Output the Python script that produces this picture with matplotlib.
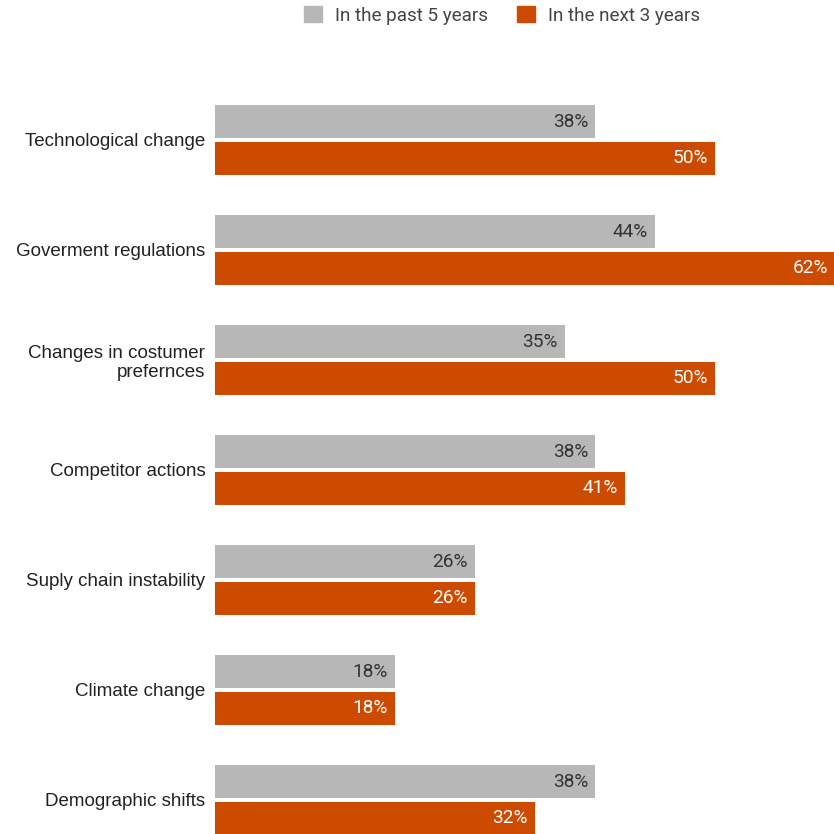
import matplotlib
matplotlib.use('Agg')
import matplotlib.pyplot as plt
from matplotlib.patches import Patch
import numpy as np

# 分类名称
categories = ['Technological change', 'Goverment regulations',
              'Changes in costumer\nprefernces', 'Competitor actions',
              'Suply chain instability', 'Climate change', 'Demographic shifts']
# 过去5年
past_5 = [38, 44, 35, 38, 26, 18, 38]
# 未来3年
next_3 = [50, 62, 50, 41, 26, 18, 32]
series_names = ['In the past 5 years', 'In the next 3 years']

gray = '#b7b7b7'
orange = '#cc4b00'


def main():
    fig = plt.figure(figsize=(8.34, 8.34), dpi=100)
    W, H = 834.0, 834.0
    ax = fig.add_axes([215 / W, 0, 619 / W, 1 - 60 / H])

    y = np.arange(len(categories))
    off = 0.166
    h = 0.30
    ax.barh(y - off, past_5, height=h, color=gray)
    ax.barh(y + off, next_3, height=h, color=orange)

    # 数值标签
    for i in range(len(categories)):
        ax.annotate('%d%%' % past_5[i], (past_5[i], y[i] - off), xytext=(-7, 0),
                    textcoords='offset pixels', ha='right', va='center',
                    fontsize=13.8, family='Roboto', color='#333333',
                    annotation_clip=False)
        ax.annotate('%d%%' % next_3[i], (next_3[i], y[i] + off), xytext=(-7, 0),
                    textcoords='offset pixels', ha='right', va='center',
                    fontsize=13.8, family='Roboto', color='white',
                    annotation_clip=False)

    ax.set_xlim(0, 61.9)
    ax.set_ylim(694 / 110.0, -80 / 110.0)
    ax.set_yticks(y)
    ax.set_yticklabels(categories, fontsize=13.5, family='Liberation Sans',
                       color='#222222', ha='right', multialignment='right',
                       linespacing=1.15)
    ax.tick_params(axis='y', length=0, pad=7)
    ax.set_xticks([])
    for s in ax.spines.values():
        s.set_visible(False)

    handles = [Patch(color=gray), Patch(color=orange)]
    fig.legend(handles, series_names, loc='upper center', ncol=2,
               bbox_to_anchor=(502 / W, 1.0 + 11 / H), frameon=False,
               handlelength=0.95, handleheight=0.95, handletextpad=0.7,
               columnspacing=1.5, prop={'family': 'Roboto', 'size': 13.6},
               labelcolor='#444444')

    fig.savefig('out.png', dpi=100)


if __name__ == '__main__':
    main()
